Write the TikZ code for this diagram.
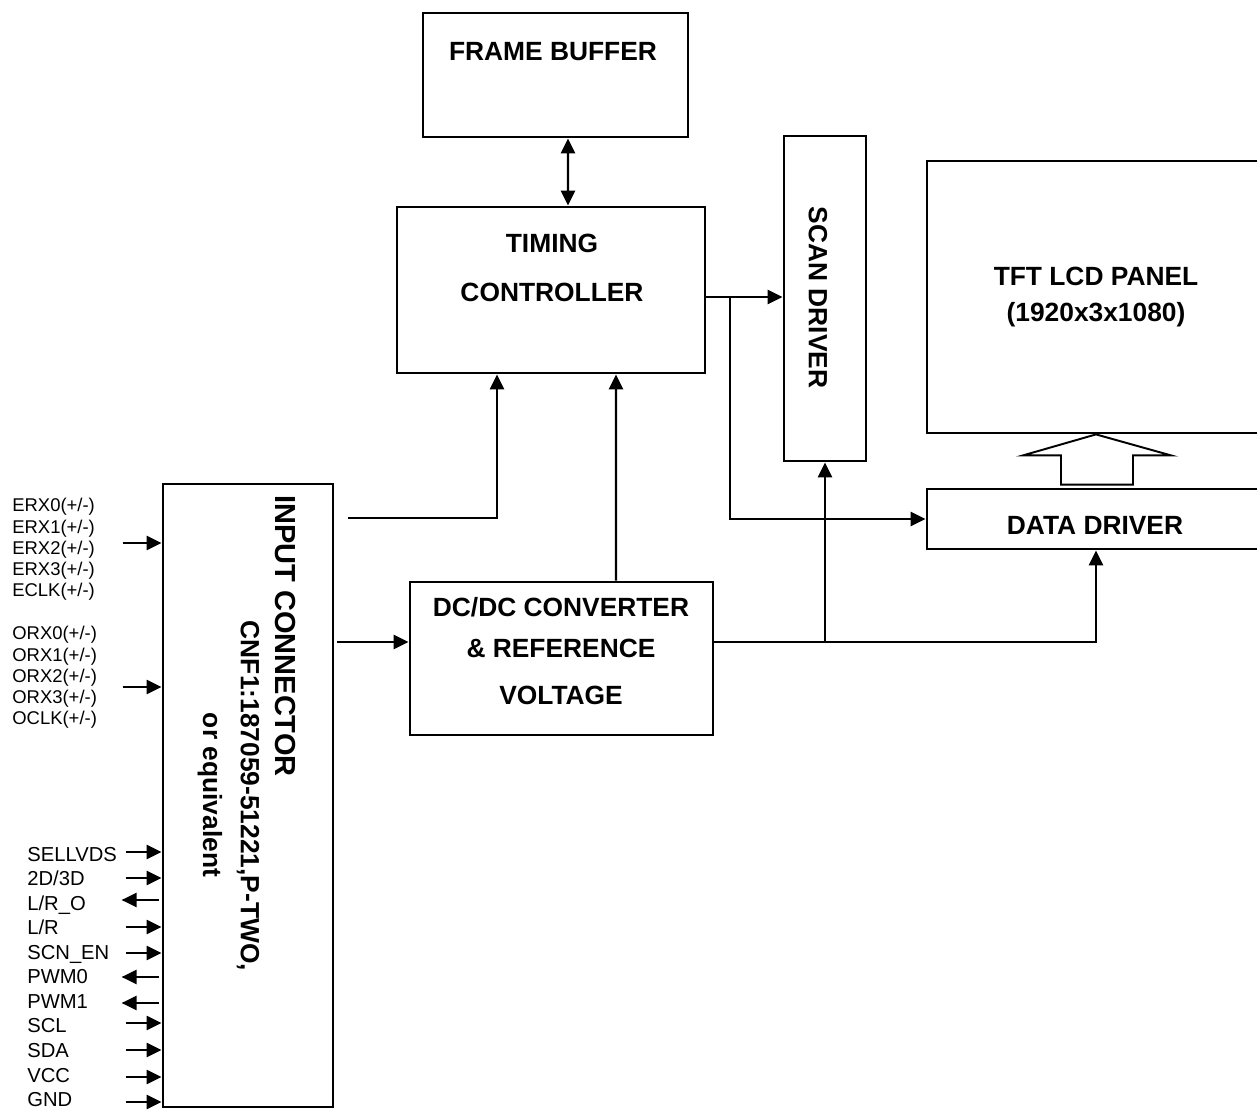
\documentclass[tikz,border=0pt]{standalone}
\usepackage{fontspec}
\setmainfont{Liberation Sans}
\usepackage{tikz}
\usetikzlibrary{arrows.meta,positioning,calc}

\begin{document}
\begin{tikzpicture}[
block/.style={draw, line width=1.6pt, fill=white, inner sep=0pt, align=center,
font=\bfseries\fontsize{15}{18}\selectfont},
title/.style={inner sep=0pt, align=center, font=\bfseries\fontsize{15}{18}\selectfont},
pinlbl/.style={inner sep=0pt, anchor=west, align=left},
arrow/.style={-{Triangle[length=0.3cm,width=0.28cm]}, line width=1.4pt},
biarrow/.style={{Triangle[length=0.3cm,width=0.28cm]}-{Triangle[length=0.3cm,width=0.28cm]}, line width=1.4pt},
pin/.style={-{Triangle[length=0.3cm,width=0.28cm]}, line width=1.3pt},
fat/.style={line width=1.1pt, line join=miter}
]

\useasboundingbox (0,0) rectangle (25.14,22.22);

\node[block, minimum width=5.30cm, minimum height=2.48cm] (fb) at (11.11,20.72) {};
\node[title] (fbtext) at (11.06,21.18) {FRAME BUFFER};

\node[block, minimum width=6.16cm, minimum height=3.32cm] (tc) at (11.02,16.42) {};
\node[title] (tctext) at (11.04,16.86) {TIMING\\[10.3pt]CONTROLLER};

\node[block, minimum width=1.64cm, minimum height=6.50cm] (scan) at (16.50,16.25) {};
\node[title, rotate=-90] (scantext) at (16.36,16.27) {SCAN DRIVER};

\node[block, minimum width=6.76cm, minimum height=5.44cm] (panel) at (21.92,16.28)
{TFT LCD PANEL\\[3pt](1920x3x1080)};

\node[block, minimum width=6.76cm, minimum height=1.20cm] (dd) at (21.92,11.84) {};
\node[title] (ddtext) at (21.90,11.72) {DATA DRIVER};

\node[block, minimum width=6.06cm, minimum height=3.06cm] (dc) at (11.23,9.05) {};
\node[title] (dctext) at (11.22,9.19) {DC/DC CONVERTER\\[5pt]\& REFERENCE\\[9pt]VOLTAGE};

\node[block, minimum width=3.40cm, minimum height=12.46cm] (conn) at (4.96,6.31) {};
\node[title, rotate=-90, font=\bfseries\fontsize{16.5}{19}\selectfont] (conntext) at (5.70,9.50) {INPUT CONNECTOR};
\node[title, rotate=-90] (partno) at (4.96,6.30) {CNF1:187059-51221,P-TWO,};
\node[title, rotate=-90] (equiv) at (4.20,6.32) {or equivalent};

% signal names
\node[pinlbl, font=\fontsize{10.5}{12.05}\selectfont] (elvds) at (0.24,11.23)
{ERX0(+/-)\\ERX1(+/-)\\ERX2(+/-)\\ERX3(+/-)\\ECLK(+/-)};
\node[pinlbl, font=\fontsize{10.5}{12.05}\selectfont] (olvds) at (0.24,8.67)
{ORX0(+/-)\\ORX1(+/-)\\ORX2(+/-)\\ORX3(+/-)\\OCLK(+/-)};
\node[pinlbl, font=\fontsize{11.5}{13.95}\selectfont] (ctrl) at (0.54,2.68)
{SELLVDS\\2D/3D\\L/R\_O\\L/R\\SCN\_EN\\PWM0\\PWM1\\SCL\\SDA\\VCC\\GND};

% links
\draw[biarrow] ([xshift=0.25cm]fb.south) -- ([xshift=0.34cm]tc.north);

\coordinate (tcout) at ([yshift=-0.14cm]tc.east);
\draw[arrow] (tcout) -- (tcout -| scan.west);
\coordinate (tcsplit) at (14.60,16.28);
\draw[arrow] (tcsplit) |- (dd.west);

\coordinate (inlink) at (6.96,11.86);
\draw[arrow] (inlink) -| ([xshift=-1.08cm]tc.south);
\draw[arrow] ([xshift=1.09cm]dc.north) -- ([xshift=1.30cm]tc.south);

\coordinate (dcin) at ([yshift=0.33cm]dc.west);
\draw[arrow, shorten <=0.06cm] (dcin -| conn.east) -- (dcin);
\coordinate (dcout) at ([yshift=0.33cm]dc.east);
\draw[arrow] (dcout) -| (dd.south);
\coordinate (dcsplit) at (16.50,9.38);
\draw[arrow] (dcsplit) -- (scan.south);

\draw[fat] ([xshift=-0.70cm,yshift=0.06cm]dd.north) |- ([xshift=-1.46cm,yshift=-0.42cm]panel.south)
-- (panel.south) -- ([xshift=1.50cm,yshift=-0.42cm]panel.south)
-| ([xshift=0.74cm,yshift=0.06cm]dd.north) -- cycle;

% connector pins
\draw[pin] ([xshift=-0.78cm,yshift=5.05cm]conn.west) -- ([yshift=5.05cm]conn.west);
\draw[pin] ([xshift=-0.78cm,yshift=2.17cm]conn.west) -- ([yshift=2.17cm]conn.west);

\draw[pin] ([xshift=-0.72cm,yshift=-1.13cm]conn.west) -- ([yshift=-1.13cm]conn.west);
\draw[pin] ([xshift=-0.72cm,yshift=-1.65cm]conn.west) -- ([yshift=-1.65cm]conn.west);
\draw[pin] ([xshift=-0.06cm,yshift=-2.09cm]conn.west) -- ([xshift=-0.80cm,yshift=-2.09cm]conn.west);
\draw[pin] ([xshift=-0.72cm,yshift=-2.63cm]conn.west) -- ([yshift=-2.63cm]conn.west);
\draw[pin] ([xshift=-0.72cm,yshift=-3.15cm]conn.west) -- ([yshift=-3.15cm]conn.west);
\draw[pin] ([xshift=-0.06cm,yshift=-3.63cm]conn.west) -- ([xshift=-0.80cm,yshift=-3.63cm]conn.west);
\draw[pin] ([xshift=-0.06cm,yshift=-4.15cm]conn.west) -- ([xshift=-0.80cm,yshift=-4.15cm]conn.west);
\draw[pin] ([xshift=-0.72cm,yshift=-4.55cm]conn.west) -- ([yshift=-4.55cm]conn.west);
\draw[pin] ([xshift=-0.72cm,yshift=-5.09cm]conn.west) -- ([yshift=-5.09cm]conn.west);
\draw[pin] ([xshift=-0.72cm,yshift=-5.63cm]conn.west) -- ([yshift=-5.63cm]conn.west);
\draw[pin] ([xshift=-0.72cm,yshift=-6.13cm]conn.west) -- ([yshift=-6.13cm]conn.west);

\end{tikzpicture}
\end{document}
